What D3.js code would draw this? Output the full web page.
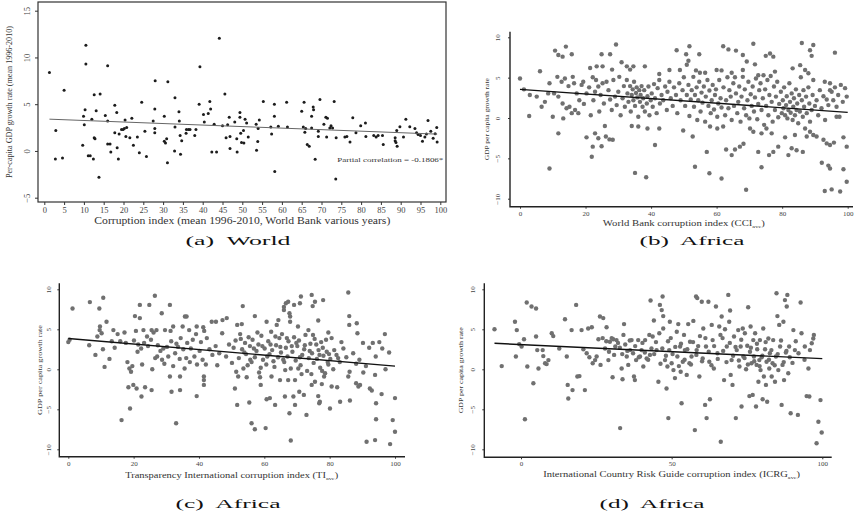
<!DOCTYPE html>
<html>
<head>
<meta charset="utf-8">
<script src="https://cdn.jsdelivr.net/npm/d3@7"></script>
<style>
body { margin: 0; background: #fff; }
svg { font-family: "Liberation Serif", "DejaVu Serif", serif; }
</style>
</head>
<body>
<div id="chart"></div>
<script>
let worldPoints = [[1.3,8.4],[2.8,-0.85],[2.9,2.2],[5.0,6.5],[4.6,-0.75],[9.7,0.6],[9.9,3.7],[10.1,2.8],[10.3,4.4],[10.5,9.3],[10.5,11.3],[11.1,-0.5],[11.6,-0.5],[12.0,3.4],[12.4,-0.85],[12.6,6.0],[12.6,1.4],[12.8,1.3],[13.1,4.3],[13.8,-2.8],[14.1,6.1],[15.4,3.8],[16.0,9.1],[16.0,3.2],[16.0,0.75],[16.6,0.75],[16.8,-0.1],[17.8,4.9],[17.8,1.95],[18.3,4.1],[18.4,0.35],[18.7,-0.85],[18.9,1.8],[19.5,2.3],[19.9,2.3],[20.4,3.3],[20.2,2.4],[20.6,1.55],[20.8,2.5],[21.6,1.4],[22.1,3.5],[22.5,0.6],[23.5,1.5],[24.0,-0.2],[24.6,5.2],[25.4,2.1],[25.8,-0.6],[27.5,3.2],[27.9,4.5],[28.0,7.5],[27.9,2.4],[27.9,1.95],[30.3,3.7],[30.3,1.05],[30.6,0.85],[30.9,1.3],[31.1,-1.25],[31.2,7.4],[33.0,5.7],[33.0,2.55],[32.9,0],[34.0,4.2],[34.1,3.2],[34.3,1.65],[34.4,-0.35],[34.7,1.1],[35.8,1.9],[35.9,2.3],[36.4,2.3],[36.8,2.3],[38.0,1.65],[38.3,2.3],[39.1,5.0],[39.3,9.0],[40.2,3.9],[40.4,3.1],[41.4,4.0],[41.8,5.3],[42.0,4.5],[42.3,-0.1],[42.9,2.85],[43.5,-0.1],[44.2,12.05],[45.0,2.7],[45.6,6.1],[45.9,1.4],[46.3,2.8],[46.7,3.6],[46.9,1.55],[46.9,0.25],[48.1,3.1],[48.6,1.3],[48.7,-0.1],[49.4,4.1],[49.4,3.6],[49.6,1.9],[49.8,0.9],[50.3,2.2],[50.4,0.85],[50.7,3.4],[51.1,3.0],[51.5,1.5],[53.5,2.85],[53.6,0.07],[53.9,1.0],[54.3,3.3],[54.0,2.4],[55.3,5.3],[57.4,1.8],[57.2,2.55],[58.1,5.0],[58.1,3.7],[58.2,-2.2],[59.1,2.65],[61.2,5.2],[61.4,2.55],[65.0,4.25],[65.6,5.2],[65.4,2.55],[65.8,2.0],[66.0,2.4],[66.4,0.7],[66.9,0.5],[67.5,3.7],[67.5,2.45],[67.9,4.7],[68.0,4.4],[68.4,-0.9],[69.2,1.55],[69.2,2.1],[69.6,5.5],[70.6,2.85],[71.1,3.6],[71.5,3.5],[71.3,1.5],[72.1,2.45],[72.4,2.7],[72.8,2.45],[73.2,5.3],[73.6,-3.0],[73.7,1.4],[75.9,1.5],[76.4,1.55],[77.2,0.95],[77.9,3.55],[78.7,1.95],[79.9,2.7],[81.1,3.0],[81.2,1.55],[83.2,1.65],[83.8,1.5],[84.3,1.65],[85.6,0.7],[85.4,1.65],[88.6,1.4],[88.6,1.1],[88.8,0.9],[89.1,0.5],[89.0,2.2],[89.8,2.6],[90.7,1.5],[91.3,3.4],[92.3,2.6],[93.6,2.4],[94.0,1.95],[94.4,1.75],[95.0,1.65],[95.5,1.05],[96.1,1.5],[96.5,1.8],[96.9,3.25],[99.1,2.5],[98.7,1.85],[98.2,1.35],[99.2,0.95],[97.6,2.1]];

let cciPoints = [[10.7,8.35],[11.7,7.8],[13,7.6],[14,8.85],[15.8,7.9],[24.9,7.9],[27.5,7.9],[29.3,9.1],[47.8,8.4],[50.7,7.9],[51.7,8.9],[54.7,7.9],[62,8.9],[63.6,8.5],[65.9,8.35],[68,7.8],[71.2,9.2],[75,7.7],[76.3,8.0],[77.3,7.6],[86,9.3],[88.5,8.4],[89.5,9.05],[89,7.7],[96.1,8.1],
[6.1,5.8],[21.4,6.2],[23.4,6.4],[25.2,6.4],[28.1,6.0],[31,6.9],[32.6,6.4],[33.6,6.0],[34.6,6.4],[38.1,6.4],[42.5,5.45],[45.6,5.95],[48.8,5.95],[50.9,6.6],[51.4,7.1],[53.7,5.9],[54.9,5.6],[56.5,5.6],[60,5.95],[61.5,5.9],[64.6,5.6],[68,5.95],[69.2,7.0],[71.7,6.65],[72.7,5.3],[74.3,5.3],[77.8,5.75],[83.2,6.15],[85.5,6.55],[87,5.95],[88,5.55],[93,4.5],[94.6,3.45],[0,4.9],
[11.7,-1.9],[20.3,-2.4],[21.9,-4.8],[22.2,-3.55],[22.9,-1.9],[23.9,-2.5],[24.9,-3.5],[26.2,-2.3],[27.3,-2.65],[28.3,-2.7],[25.9,-1.0],[34.1,-1.0],[36.1,-1.05],[38.9,-1.3],[42.5,-1.3],[41.2,-3.35],[49.8,-1.55],[52.7,-2.3],[57,-4.2],[58,-1.05],[60.2,-1.3],[62,-1.05],[62.9,-3.9],[64.6,-4.6],[65.6,-3.9],[67.1,-3.55],[68.2,-3.2],[70.2,-1.3],[71.2,-1.7],[72.7,-4.2],[73.7,-1.9],[75.2,-1.3],[76,-4.6],[76.8,-1.9],[77.3,-4.2],[78.8,-3.55],[80.9,-2.4],[81.9,-4.6],[82.9,-3.75],[83.9,-2.1],[84.4,-4.0],[86.3,-4.2],[87.5,-2.3],[88.5,-1.7],[89.5,-2.1],[90.5,-2.3],[92.6,-2.7],[93.6,-3.15],[94.6,-3.35],[95.8,-3.05],[96.6,0.15],[98.7,-2.4],[99.7,-3.55],
[9,-6.25],[35.1,-6.8],[38.5,-7.35],[53.4,-6.05],[57.8,-6.85],[61.5,-7.5],[69,-8.9],[73.7,-6.1],[92.1,-5.55],[94.1,-5.9],[94.6,-6.25],[93,-9.05],[95.1,-8.85],[97.7,-9.1],[98.7,-6.35],[99.7,-7.9],
[1.2,3.55],[3,2.85],[2.8,0.25],[5.1,2.65],[6.6,1.4],[7.6,2.0],[8.6,3.05],[9,4.3],[10,0.15],[10.4,3.05],[11.4,5.1],[11.7,2.65],[12.7,4.5],[13,1.8],[13.2,-0.05],[13.7,4.9],[14.2,1.2],[14.8,3.95],[15.1,1.4],[15.8,0.6],[16.1,5.1],[16.5,4.3],[16.8,1.0],[17.3,3.05],[17.8,0.6],[18.1,2.2],[18.8,4.1],[19.3,4.5],[19.5,1.75],[20.3,3.05],[21.1,3.8],[21.6,0.35],[22.2,5.05],[22.4,2.2],[22.9,3.25],[23.2,4.7],[23.9,3.9],[24.2,0.8],[24.6,2.85],[25.2,4.3],[25.6,1.8],[26.4,4.5],[27,3.45],[27.5,2.3],[28,1.0],[28.5,4.7],[29,2.65],[29.5,1.6],[30,3.25],[30.3,5.1],[30.7,0.35],[31.3,2.45],[31.7,3.95],[32,1.4],[32.6,4.7],[32.8,3.05],[33.1,2.0],[33.6,3.95],[33.8,0.8],[34.1,2.85],[34.4,3.55],[34.6,2.2],[34.8,4.5],[35.1,1.5],[35.4,3.1],[35.6,3.8],[35.8,2.55],[36.1,0.15],[36.4,3.45],[36.6,2.0],[36.8,2.85],[37.1,3.95],[37.4,1.4],[37.6,2.45],[37.9,3.45],[38.1,0.8],[38.7,1.8],[38.9,2.7],[39.2,3.9],[39.5,0.35],[39.9,2.2],[40.2,3.05],[40.5,1.4],[40.9,4.2],[41.2,2.45],[41.7,0.6],[42,3.7],[42.5,4.7],[42.7,1.8],[43.2,2.85],[43.7,2.2],[44.3,3.9],[44.8,1.0],[45,3.25],[45.6,4.5],[46,2.45],[46.6,1.5],[47,3.8],[47.6,2.85],[48,0.6],[48.6,4.3],[49,2.2],[49.6,3.45],[50,5.05],[50.4,1.5],[50.9,2.85],[51.4,4.1],[51.7,0.25],[52.1,2.3],[52.4,3.45],[52.9,5.1],[53.1,1.4],[53.4,2.85],[53.9,3.8],[54.1,-0.25],[54.4,2.2],[54.7,4.5],[55.1,0.8],[55.4,3.15],[55.7,1.9],[56.1,3.9],[56.5,-0.45],[56.7,2.65],[57.2,4.7],[57.5,1.5],[57.8,3.4],[58.2,0.6],[58.5,2.2],[58.8,4.1],[59.2,1.05],[59.5,2.85],[59.8,3.55],[60.2,0.15],[60.5,1.8],[60.8,4.7],[61.2,2.45],[61.5,1.3],[62.1,3.8],[62.6,0.35],[62.9,2.2],[63.3,5.05],[63.6,1.2],[63.9,3.45],[64.3,2.65],[64.6,-0.25],[65.1,4.3],[65.3,1.5],[65.6,5.05],[65.9,3.05],[66.3,0.6],[66.6,2.0],[66.9,3.9],[67.3,-0.45],[67.6,2.65],[68,5.1],[68.4,1.2],[68.6,3.55],[69,0.35],[69.4,2.2],[69.7,4.5],[70,-0.05],[70.4,2.95],[70.7,1.5],[71,3.9],[71.4,0.8],[71.7,2.55],[72,4.9],[72.4,-0.15],[72.7,1.75],[73,3.45],[73.4,4.3],[73.7,1.0],[74.1,2.45],[74.5,-0.85],[74.8,3.55],[75.1,1.5],[75.5,4.7],[75.8,0.35],[76.1,2.85],[76.5,5.2],[76.8,2.0],[77.1,-0.45],[77.5,3.9],[77.8,1.0],[78.1,2.65],[78.5,4.5],[78.8,0.1],[79.1,1.75],[79.6,3.25],[79.9,0.6],[80.2,2.2],[80.4,1.2],[80.6,3.8],[80.9,0.35],[81.2,1.6],[81.4,2.7],[81.6,-0.05],[81.9,1.0],[82.2,4.3],[82.4,2.0],[82.6,0.65],[82.9,3.05],[83.2,-0.25],[83.4,1.4],[83.6,2.45],[83.9,0.35],[84.2,3.55],[84.4,1.0],[84.6,1.8],[84.9,-0.65],[85.2,2.85],[85.4,0.8],[85.7,5.05],[86,2.2],[86.3,0.15],[86.5,3.45],[86.7,1.4],[87,-1.3],[87.3,2.65],[87.5,0.6],[88,3.8],[88.3,1.8],[88.5,-0.45],[89,1.0],[89.3,2.85],[89.5,4.7],[90,1.5],[90.5,2.2],[91,0.35],[91.5,3.45],[92,1.2],[92.6,2.7],[93.1,-0.25],[93.6,2.3],[94.1,1.6],[94.6,4.3],[95.1,3.25],[95.6,2.2],[96.1,3.8],[96.6,1.4],[97.1,2.85],[97.5,0.15],[97.9,4.1],[98.5,2.0],[99.2,3.7],[99.7,2.65]];

let tiPoints = [[1.3,7.6],[6.6,8.4],[10.7,8.95],[9.5,7.6],[21.9,8.05],[24.8,8.05],[26.5,9.2],[28.6,7.0],[31.1,8.05],[35.7,6.6],[53.4,7.9],[57.1,6.65],[66,7.8],[66,7.4],[66.6,8.25],[67.3,8.45],[67.7,7.0],[67.9,6.6],[69.1,8.05],[70.9,8.25],[71.2,9.1],[74.5,9.3],[74.8,7.9],[75.5,8.45],[78,8.65],[85.7,9.6],[86,6.65],[88.3,5.75],
[11.7,5.95],[9.7,5.35],[13.8,4.9],[20.4,6.65],[21.9,6.4],[23,4.9],[25.5,4.9],[27,4.9],[29.6,4.9],[32.1,5.35],[35,5.35],[36.2,6.6],[37,4.9],[39.3,5.35],[41.3,5.25],[43.9,5.95],[45.2,5.95],[47.2,6.15],[48.5,6.4],[51.7,5.55],[53.1,5.65],[60.7,5.95],[63.8,5.55],[64.3,6.15],[67.9,5.95],[70.3,5.35],[73.5,4.9],[76.5,6.1],[79.6,4.6],[86,5.55],[88.5,4.5],[96.9,4.4],
[18.4,-2.25],[18.9,-4.9],[19.9,-1.95],[20.9,-2.4],[22.4,-3.4],[23.5,-2.25],[25.5,-2.6],[16.3,-6.35],[31.1,-0.9],[31.6,-2.8],[34.2,-0.9],[34.2,-2.6],[33,-6.75],[39.3,-3.35],[41.5,-0.9],[41.5,-1.35],[41.5,-1.95],[51,-2.4],[51.7,-4.45],[52,-0.9],[54.6,-1.0],[55.4,-4.15],[56.1,-6.75],[57.1,-7.5],[58.7,-1.0],[58.9,-1.95],[60.4,-7.35],[60.7,-3.75],[61.7,-3.6],[62.2,-0.9],[63.3,-4.45],[64.8,-1.35],[66.3,-3.4],[67.3,-1.35],[67.7,-5.5],[68.1,-8.9],[68.9,-3.4],[69.4,-1.35],[69.4,-4.45],[70.7,-2.8],[71.4,-0.6],[72.1,-3.2],[72.9,-5.7],[74.5,-1.95],[75.5,-1.55],[76.5,-3.35],[76.8,-4.25],[77,-4.05],[77.6,-1.85],[78.3,-0.9],[80.1,-4.9],[80.6,-2.15],[82.3,-2.25],[83.2,-4.05],[85.7,-0.9],[86.2,-3.9],[88.1,-1.75],[88.8,-2.15],[89.3,-1.95],[90.3,-0.4],[92.3,-2.4],[93.9,-0.7],[92.9,-2.65],[94.2,-4.25],[94.2,-6.25],[93.9,-8.85],[91.3,-9.05],[95.9,-3.1],[98.5,-9.35],[99.3,-6.35],[100,-3.6],[100,-7.8],
[0,3.4],[0.4,3.7],[6.4,3.0],[8.3,1.8],[8.9,4.1],[9.6,4.9],[10.2,4.5],[10.6,2.5],[11.1,0.3],[12.6,1.3],[13.3,3.5],[14.2,2.7],[15.1,4.4],[15.9,3.5],[17.2,4.6],[17.6,3.3],[18.1,0.9],[18.7,0.1],[19.2,-0.3],[19.6,0.4],[20.1,3.6],[20.7,4.8],[21.2,2.2],[21.4,3.1],[22.3,2.6],[22.6,0.6],[23.2,3.3],[24.1,4.1],[24.4,2.9],[25.3,3.7],[25.7,0.0],[26.1,4.6],[26.6,1.4],[27.2,1.6],[27.4,3.0],[28.2,2.3],[28.7,1.2],[29.1,2.6],[29.4,0.7],[30.2,2.8],[30.6,1.6],[31.3,4.8],[31.5,3.5],[32.1,0.4],[32.7,2.0],[33.1,3.2],[33.6,2.8],[34.1,1.3],[34.4,3.9],[35.2,2.5],[35.6,0.1],[36.1,1.4],[36.4,3.3],[37.2,0.9],[37.5,2.6],[38.1,3.7],[38.6,1.6],[39.1,4.4],[39.4,0.6],[40.2,2.3],[40.6,3.4],[41.1,1.2],[41.6,4.8],[42.1,0.6],[42.4,3.9],[43.2,2.5],[44.1,1.8],[45.1,2.9],[45.6,0.5],[46.2,2.0],[47.1,4.5],[48.3,1.6],[49.2,3.1],[50.1,0.8],[50.6,2.7],[51.2,3.6],[51.4,-0.3],[52.2,1.4],[52.6,4.4],[53.2,2.5],[53.6,0.1],[54.1,3.3],[54.4,1.9],[55.2,4.0],[55.6,2.9],[56.1,0.9],[56.4,3.7],[57.1,1.5],[57.6,2.3],[58.2,3.1],[58.4,-0.4],[59.1,4.2],[59.6,1.2],[60.1,2.6],[60.6,0.6],[61.2,3.5],[61.6,1.9],[62.1,4.7],[62.4,2.4],[63.1,0.3],[63.6,3.0],[64.2,1.5],[64.6,3.9],[65.1,2.1],[65.4,4.4],[66.1,0.9],[66.6,2.7],[67.1,1.6],[67.4,3.5],[68.1,0.1],[68.6,2.2],[69.1,4.0],[69.6,1.1],[70.1,2.9],[70.6,3.6],[71.1,0.5],[71.6,1.8],[72.2,2.5],[72.6,4.3],[73.1,-0.2],[73.6,1.4],[74.1,3.2],[74.6,2.0],[75.1,0.8],[75.4,3.8],[76.1,1.3],[76.6,2.4],[77.1,0.2],[77.4,3.4],[78.1,1.7],[78.6,-0.5],[79.1,2.2],[79.6,0.6],[80.2,1.3],[80.6,3.9],[81.1,0.0],[82.1,1.8],[83.1,0.9],[84.2,2.6],[85.1,1.5],[86.1,-0.3],[87.2,2.0],[88.1,0.7],[89.1,1.2],[90.2,3.3],[91.1,0.4],[92.1,2.7],[93.2,3.3],[94.1,1.6],[95.2,3.4],[96.1,2.6],[97.1,0.0],[98.2,2.1],
[52.8,3.8],[53.9,2.1],[55.7,1.2],[56.8,2.6],[57.9,4.6],[59.4,2.9],[60.9,1.6],[61.9,3.1],[63.4,4.1],[64.9,2.8],[65.8,1.2],[66.9,3.9],[68.4,2.9],[69.8,3.3],[70.9,1.5],[72.4,3.0],[73.9,2.3],[74.9,4.3],[75.9,3.1],[76.9,1.8],[77.9,2.7],[78.9,3.7],[79.8,1.9],[81.4,2.4],[82.6,1.4],[83.6,3.4],[54.9,0.5],[58.9,0.2],[62.8,1.0],[66.4,-0.1],[70.4,0.1],[74.4,-0.6],[77.7,-0.2],[79.4,0.9]];

let icrgPoints = [[-8.8,5.0],[-6.4,0.4],[-2,5.95],[-1.4,4.9],[-1.7,1.6],[-0.6,3.15],[0.2,2.85],[1,3.75],[1.3,-6.25],[1.9,8.35],[2.1,0.35],[3.5,7.85],[4.1,-1.75],[5,7.6],[5,4.1],[5.4,2.4],[5.8,0.1],[7.2,2.4],[7.4,1.65],[8,0.75],[8.5,0.65],[9.1,1.15],[10.2,4.5],[10.7,4.15],[12.7,2.6],[14.6,6.25],[15.2,1.6],[15.5,-1.95],[15.7,-3.65],[16.8,4.9],[17.1,-2.6],[18.3,8.05],[18.7,-0.9],[19.4,-0.85],[20.1,4.9],[20.7,2.5],[21.2,-2.6],[21.8,2],[22.3,5.1],[22.7,1.5],[23.5,5.25],[23.8,0.75],[24.6,1.15],[25.1,1.6],[25.7,3.75],[26.2,6.6],[26.4,0.55],[27.1,3.9],[27.3,6.4],[27.9,2.6],[28.4,5.25],[29,1.15],[29.5,3.45],[30.4,-1.0],[30.6,3.75],[31.3,2.85],[31.7,3.65],[32.9,-7.35],[33.4,0.1],[33.7,-1.25],[34,4.3],[34.2,5.65],[35.1,1.6],[35.6,0.55],[36.2,2.4],[36.7,3.65],[37.5,-0.9],[37.8,-1.35],[38.2,1.15],[38.9,3.65],[39.5,1.6],[40,2.4],[40.6,0.35],[41.2,3.65],[41.7,1.35],[42.6,4.3],[42.8,1.8],[43,8.6],[43.7,4.1],[44.1,6.1],[45,2.4],[45.6,-1.55],[45.9,4.5],[46.1,8.05],[46.7,7.4],[47,9.1],[47.2,6.65],[47.2,5.1],[47.8,1.15],[48.3,-2.4],[48.6,0.35],[48.9,-6.1],[49.2,2.4],[49.4,5.95],[49.7,3.9],[50,0.75],[50.6,-0.1],[51.1,-1.1],[51.7,4.7],[51.9,1.6],[52.2,5.65],[52.8,2.85],[53,-0.3],[53.3,-4.25],[53.7,0.95],[54.1,4.3],[54.4,2.4],[55,-0.7],[55.5,5.65],[55.9,0.75],[56.1,3.45],[56.6,1.6],[57.2,6.05],[57.7,-7.6],[58.1,9.1],[58.3,2.4],[58.5,8.9],[59.2,-0.9],[59.4,4.15],[60,8.45],[60.3,1.35],[60.5,5.1],[61.1,-4.45],[61.4,2.85],[61.6,-6.1],[62.2,8.45],[62.5,0.95],[62.7,-3.75],[63.3,5.55],[63.6,3.65],[64,0.1],[64.7,7.85],[65.2,2.0],[65.8,5.35],[66.3,-9.05],[66.6,6.6],[66.9,3.9],[67.4,-1.35],[67.7,5.0],[68.3,2.85],[68.8,9.3],[69.1,5.95],[69.4,7.35],[69.6,-0.7],[69.9,1.15],[70.2,-1.95],[70.7,4.1],[71.3,-6.1],[71.6,2.4],[72.1,4.9],[72.5,0.35],[72.9,2.85],[73.2,-4.65],[73.6,5.1],[73.8,1.6],[74.3,4.5],[74.7,0],[75.1,2.95],[75.4,7.75],[75.8,-3.35],[76,2.2],[76.2,5.35],[76.5,0.75],[76.9,-3.2],[77.1,3.65],[77.3,1.6],[77.7,4.5],[78,-4.65],[78.2,0.55],[78.4,2.5],[78.8,-1.55],[79.1,1.15],[79.3,3.65],[79.5,-0.1],[79.9,1.5],[80.2,-3.75],[80.4,5.1],[80.6,-0.9],[81,2.5],[81.3,-1.95],[81.5,0.95],[81.7,-4.05],[82.1,3.85],[82.4,0.1],[82.6,2.0],[83.2,-0.9],[83.5,0.75],[83.7,3.65],[84.3,-1.55],[84.6,1.6],[84.8,9.5],[85.1,6.65],[85.4,-0.1],[85.7,5.55],[86,2.85],[86.5,-4.45],[86.8,0.55],[87.1,5.95],[87.3,-1.35],[87.6,8.65],[87.9,2.1],[88.2,7.85],[88.4,9.3],[88.7,-0.5],[89,2.85],[89.5,-5.5],[90.4,4.9],[90.9,2.4],[91.9,-5.7],[92.8,8.35],[94.2,2.85],[94.8,-3.35],[95.4,0.1],[95.7,-3.4],[95.9,2.4],[96.5,3.25],[97,3.85],[97.2,4.3],[98.1,-9.25],[98.7,-6.55],[99.4,-3.85],[99.8,-7.9],
[28.3,3.5],[29.2,2.2],[30.1,3.9],[30.9,1.8],[32.2,3.3],[32.8,2.7],[33.6,1.9],[34.6,3.1],[35.3,2.3],[36.1,3.6],[37.2,2.0],[37.9,2.9],[39.1,1.5],[40.3,3.3],[41.1,2.1],[42.2,1.2],[43.3,2.6],[44.2,1.9],[44.8,3.4],[46.3,0.7],[46.9,2.6],[48.1,1.7],[48.8,3.5],[50.3,1.9],[51.2,2.8],[52.4,0.4],[53.1,3.2],[54.3,1.2],[55.2,2.5],[56.4,0.6],[57.1,3.4],[58.2,1.8],[58.8,2.9],[60.1,1.0],[61.2,3.9],[62.3,2.2],[63.2,0.5],[64.1,2.9],[65.3,1.3],[66.2,4.3],[67.1,2.3],[68.2,0.9],[69.3,3.3],[70.4,1.7],[71.2,2.8],[72.3,1.1],[73.1,3.7],[74.2,1.4],[75.3,0.6],[76.3,2.7],[77.4,1.0],[78.3,3.2],[79.2,0.4],[80.1,1.7],[81.2,3.4],[82.3,1.2],[83.1,2.4],[84.2,0.5],[85.2,1.9],[86.3,3.6],[87.2,0.9],[88.1,2.3],[89.2,1.5],[90.1,0.8],[91.2,3.5],[92.1,2.0],[93.1,4.5],[94.1,1.2]];

let worldFit = [[1.3, 3.4], [99.2, 1.8]];
let cciFit = [[0, 3.55], [100, 0.7]];
let tiFit = [[0, 3.85], [100, 0.4]];
let icrgFit = [[-8.8, 3.25], [100, 1.33]];

let worldTicksX = [0,5,10,15,20,25,30,35,40,45,50,55,60,65,70,75,80,85,90,95,100];
let worldTicksY = [-5, 0, 5, 10, 15];
let africaTicksY = [-10, -5, 0, 5, 10];
let cciTicksX = [0, 20, 40, 60, 80, 100];
let tiTicksX = [0, 20, 40, 60, 80, 100];
let icrgTicksX = [0, 50, 100];

let captions = ["(a)  World", "(b)  Africa", "(c)  Africa", "(d)  Africa"];
let xTitles = [
    ["Corruption index (mean 1996-2010, World Bank various years)", ""],
    ["World Bank corruption index (CCI", "ave"],
    ["Transparency International corruption index (TI", "ave"],
    ["International Country Risk Guide corruption index (ICRG", "ave"]
];
let yTitles = ["Per-capita GDP growth rate (mean 1996-2010)", "GDP per capita growth rate", "GDP per capita growth rate", "GDP per capita growth rate"];
let noteText = "Partial correlation = -0.1806*";

let panels = [
    {points: worldPoints, fit: worldFit, ticksX: worldTicksX, ticksY: worldTicksY,
     xDomain: [0, 100], xRange: [44.3, 440.3], yDomain: [-5, 15], yRange: [197.7, 10.7],
     box: [38, 2, 446, 202], frame: true, dot: 1.5, dotColor: "#1c1c1c", lineColor: "#666", lineWidth: 1,
     tickFont: 8.5, tickSize: 3, yLabelX: 30, yTitleX: 12, yTitleLen: 152, yTitleFont: 8,
     xTitleY: 224, xTitleLen: 296, xTitleFont: 10, capX: 238, capY: 245, capLen: 105},
    {points: cciPoints, fit: cciFit, ticksX: cciTicksX, ticksY: africaTicksY,
     xDomain: [0, 100], xRange: [520, 847.7], yDomain: [-10, 10], yRange: [198.7, 37.3],
     box: [510, 31.7, 853, 206.7], frame: false, dot: 2.2, dotColor: "#707070", lineColor: "#111", lineWidth: 1.4,
     tickFont: 7, tickSize: 2, yLabelX: 500, yTitleX: 489, yTitleLen: 82, yTitleFont: 7,
     xTitleY: 226, xTitleLen: 162, xTitleFont: 8, capX: 692, capY: 245, capLen: 105},
    {points: tiPoints, fit: tiFit, ticksX: tiTicksX, ticksY: africaTicksY,
     xDomain: [0, 100], xRange: [68.3, 395], yDomain: [-10, 10], yRange: [449.3, 289.3],
     box: [59.3, 283.3, 405, 456.7], frame: false, dot: 2.2, dotColor: "#707070", lineColor: "#111", lineWidth: 1.4,
     tickFont: 7, tickSize: 2, yLabelX: 50.5, yTitleX: 41.5, yTitleLen: 90, yTitleFont: 7,
     xTitleY: 477.5, xTitleLen: 213, xTitleFont: 8, capX: 228, capY: 508, capLen: 105},
    {points: icrgPoints, fit: icrgFit, ticksX: icrgTicksX, ticksY: africaTicksY,
     xDomain: [0, 100], xRange: [521, 822.3], yDomain: [-10, 10], yRange: [449.3, 289.3],
     box: [484.3, 283.3, 831.7, 457.3], frame: false, dot: 2.2, dotColor: "#707070", lineColor: "#111", lineWidth: 1.4,
     tickFont: 7, tickSize: 2, yLabelX: 474.5, yTitleX: 463, yTitleLen: 86, yTitleFont: 7,
     xTitleY: 477, xTitleLen: 257, xTitleFont: 8, capX: 652, capY: 508, capLen: 105}
];

let svg = d3.select("#chart").append("svg")
    .attr("width", 855)
    .attr("height", 514)
    .style("display", "block");

function drawPanel(p, i) {
    let x = d3.scaleLinear().domain(p.xDomain).range(p.xRange);
    let y = d3.scaleLinear().domain(p.yDomain).range(p.yRange);
    let [x0, y0, x1, y1] = p.box;
    let g = svg.append("g").attr("fill", "#333");

    g.append("g")
        .selectAll("circle")
        .data(p.points)
        .join("circle")
        .attr("cx", d => x(d[0]))
        .attr("cy", d => y(d[1]))
        .attr("r", p.dot)
        .attr("fill", p.dotColor);

    g.append("path")
        .datum(p.fit)
        .attr("fill", "none")
        .attr("stroke", p.lineColor)
        .attr("stroke-width", p.lineWidth)
        .attr("d", d3.line().x(d => x(d[0])).y(d => y(d[1])));

    if (p.frame) {
        g.append("rect")
            .attr("x", x0).attr("y", y0)
            .attr("width", x1 - x0).attr("height", y1 - y0)
            .attr("fill", "none").attr("stroke", "#333").attr("stroke-width", 1.2);
    } else {
        g.append("path")
            .attr("d", `M${x0},${y0}V${y1}H${x1}`)
            .attr("fill", "none").attr("stroke", "#222").attr("stroke-width", 1.4);
    }

    let xAxis = g.append("g")
        .attr("transform", `translate(0,${y1})`)
        .call(d3.axisBottom(x).tickValues(p.ticksX).tickSize(p.tickSize).tickPadding(2).tickSizeOuter(0));
    let yAxis = g.append("g")
        .attr("transform", `translate(${x0},0)`)
        .call(d3.axisLeft(y).tickValues(p.ticksY).tickSize(p.tickSize).tickSizeOuter(0));

    [xAxis, yAxis].forEach(a => {
        a.select(".domain").remove();
        a.selectAll("line").attr("stroke", "#333");
        a.selectAll("text")
            .attr("font-family", "Liberation Serif, serif")
            .attr("font-size", p.tickFont)
            .attr("fill", "#444");
    });
    yAxis.selectAll("text")
        .attr("x", null).attr("dy", null)
        .attr("text-anchor", "middle")
        .attr("transform", `translate(${p.yLabelX - x0},0) rotate(-90)`);

    g.append("text")
        .attr("transform", `translate(${p.yTitleX},${(y0 + y1) / 2}) rotate(-90)`)
        .attr("text-anchor", "middle")
        .attr("font-size", p.yTitleFont)
        .attr("textLength", p.yTitleLen)
        .attr("lengthAdjust", "spacingAndGlyphs")
        .text(yTitles[i]);

    let xt = g.append("text")
        .attr("x", (p.xRange[0] + p.xRange[1]) / 2)
        .attr("y", p.xTitleY)
        .attr("text-anchor", "middle")
        .attr("font-size", p.xTitleFont)
        .attr("textLength", p.xTitleLen)
        .attr("lengthAdjust", "spacingAndGlyphs");
    xt.append("tspan").text(xTitles[i][0]);
    if (xTitles[i][1]) {
        xt.append("tspan").attr("font-size", p.xTitleFont * 0.6).attr("dy", 2).text(xTitles[i][1]);
        xt.append("tspan").attr("dy", -2).text(")");
    }

    g.append("text")
        .attr("x", p.capX)
        .attr("y", p.capY)
        .attr("text-anchor", "middle")
        .attr("font-size", 13)
        .attr("fill", "#111")
        .attr("textLength", p.capLen)
        .attr("lengthAdjust", "spacingAndGlyphs")
        .style("white-space", "pre")
        .text(captions[i]);

    if (i === 0) {
        g.append("text")
            .attr("x", x(74))
            .attr("y", y(-1.15))
            .attr("font-size", 7)
            .attr("textLength", 106)
            .attr("lengthAdjust", "spacingAndGlyphs")
            .text(noteText);
    }
}

panels.forEach(drawPanel);
</script>
</body>
</html>
